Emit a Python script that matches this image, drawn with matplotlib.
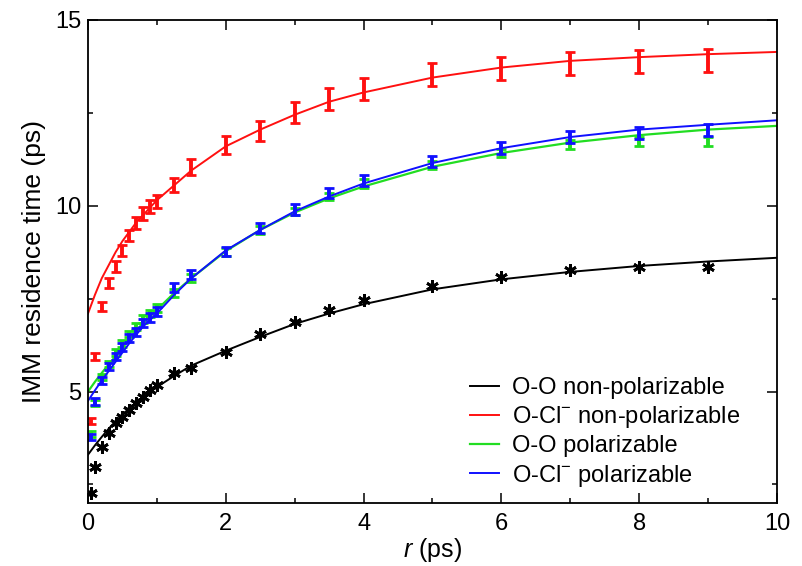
import matplotlib
matplotlib.use("Agg")
import matplotlib.pyplot as plt
from matplotlib.ticker import MultipleLocator

plt.rcParams['font.family'] = ['Liberation Sans', 'DejaVu Sans']
plt.rcParams['mathtext.fontset'] = 'custom'
plt.rcParams['mathtext.rm'] = 'Liberation Sans'
plt.rcParams['mathtext.it'] = 'Liberation Sans:italic'

# residence times at each r (ps)
r_pts = [0.05, 0.1, 0.2, 0.3, 0.4, 0.5, 0.6, 0.7, 0.8, 0.9, 1.0, 1.25, 1.5,
         2, 2.5, 3, 3.5, 4, 5, 6, 7, 8, 9]
oo_np = [2.26, 2.98, 3.52, 3.88, 4.15, 4.32, 4.5, 4.69, 4.86, 5.04, 5.18, 5.5, 5.63,
         6.06, 6.55, 6.87, 7.2, 7.46, 7.84, 8.08, 8.27, 8.35, 8.35]
ocl_np = [4.2, 5.95, 7.28, 7.92, 8.36, 8.8, 9.21, 9.54, 9.8, 9.98, 10.12, 10.56, 11.05,
          11.64, 12.0, 12.5, 12.87, 13.15, 13.52, 13.7, 13.82, 13.87, 13.92]
ocl_np_err = [0.08, 0.1, 0.12, 0.13, 0.14, 0.15, 0.15, 0.16, 0.17, 0.18, 0.18, 0.2, 0.22,
              0.25, 0.27, 0.28, 0.29, 0.3, 0.31, 0.31, 0.31, 0.31, 0.31]
oo_p = [3.85, 4.7, 5.4, 5.75, 6.05, 6.3, 6.55, 6.75, 6.95, 7.1, 7.25, 7.65, 8.05,
        8.75, 9.35, 9.85, 10.25, 10.6, 11.1, 11.42, 11.64, 11.72, 11.72]
oo_p_err = [0.08, 0.08, 0.08, 0.08, 0.09, 0.09, 0.09, 0.09, 0.1, 0.1, 0.1, 0.1, 0.1,
            0.1, 0.1, 0.1, 0.1, 0.11, 0.11, 0.11, 0.12, 0.12, 0.12]
ocl_p = [3.78, 4.73, 5.3, 5.67, 5.94, 6.2, 6.44, 6.61, 6.84, 7.0, 7.15, 7.8, 8.15,
         8.77, 9.4, 9.9, 10.34, 10.68, 11.2, 11.56, 11.85, 11.96, 12.04]
ocl_p_err = [0.08, 0.09, 0.1, 0.1, 0.1, 0.1, 0.11, 0.11, 0.11, 0.12, 0.12, 0.12, 0.13,
             0.13, 0.13, 0.14, 0.14, 0.15, 0.15, 0.16, 0.16, 0.16, 0.16]

# fitted curves
r_fit = [0, 0.1, 0.2, 0.3, 0.4, 0.5, 0.6, 0.7, 0.8, 1.0, 1.25, 1.5, 2, 2.5, 3, 3.5,
         4, 5, 6, 7, 8, 9, 10]
oo_np_fit = [3.3, 3.55, 3.78, 4.0, 4.2, 4.38, 4.55, 4.7, 4.85, 5.12, 5.42, 5.7,
             6.1, 6.47, 6.82, 7.1, 7.35, 7.75, 8.02, 8.22, 8.38, 8.5, 8.6]
ocl_np_fit = [7.1, 7.6, 8.05, 8.4, 8.75, 9.05, 9.3, 9.55, 9.75, 10.15, 10.55, 10.95,
              11.6, 12.05, 12.45, 12.8, 13.05, 13.45, 13.72, 13.9, 14.0, 14.08, 14.14]
oo_p_fit = [5.0, 5.26, 5.5, 5.73, 5.95, 6.18, 6.4, 6.63, 6.85, 7.2, 7.65, 8.05,
            8.78, 9.35, 9.82, 10.2, 10.52, 11.05, 11.42, 11.7, 11.9, 12.05, 12.15]
ocl_p_fit = [4.75, 5.03, 5.3, 5.55, 5.8, 6.05, 6.3, 6.53, 6.75, 7.1, 7.6, 8.05,
             8.8, 9.35, 9.85, 10.25, 10.6, 11.15, 11.55, 11.85, 12.05, 12.18, 12.3]

labels = ['O-O non-polarizable', r'O-Cl$^{-}$ non-polarizable',
          'O-O polarizable', r'O-Cl$^{-}$ polarizable']
RED, GREEN, BLUE = '#ff1010', '#22dd22', '#1010ff'

fig = plt.figure(figsize=(8.03, 5.66), dpi=100)
ax = fig.add_axes([0.1096, 0.1113, 0.858, 0.8534])

bar_kw = dict(fmt='none', capsize=3.8, elinewidth=2.8, capthick=2.0)

ax.plot(r_fit, oo_np_fit, color='black', lw=1.4, label=labels[0])
ax.plot(r_pts, oo_np, ls='none', marker=(6, 2, 0), ms=9, mew=2, color='black')

ax.plot(r_fit, ocl_np_fit, color=RED, lw=1.4, label=labels[1])
ax.errorbar(r_pts, ocl_np, yerr=ocl_np_err, ecolor=RED, **bar_kw)

ax.plot(r_fit, oo_p_fit, color=GREEN, lw=1.6, label=labels[2])
ax.errorbar(r_pts, oo_p, yerr=oo_p_err, ecolor=GREEN, **bar_kw)

ax.plot(r_fit, ocl_p_fit, color=BLUE, lw=1.4, label=labels[3])
ax.errorbar(r_pts, ocl_p, yerr=ocl_p_err, ecolor=BLUE, **bar_kw)

ax.set_xlim(0, 10)
ax.set_ylim(2, 15)
ax.xaxis.set_major_locator(MultipleLocator(2))
ax.xaxis.set_minor_locator(MultipleLocator(1))
ax.yaxis.set_major_locator(MultipleLocator(5))
ax.yaxis.set_minor_locator(MultipleLocator(2.5))
ax.tick_params(which='both', direction='in', top=True, right=True, width=1.1,
               labelsize=17)
ax.tick_params(axis='x', pad=7)
ax.tick_params(axis='y', pad=5)
ax.tick_params(which='major', length=7)
ax.tick_params(which='minor', length=3.5)
for s in ax.spines.values():
    s.set_linewidth(1.3)

ax.set_xlabel('$r$ (ps)', fontsize=18, labelpad=1)
ax.set_ylabel('IMM residence time (ps)', fontsize=19, labelpad=6)

ax.legend(loc='lower left', bbox_to_anchor=(0.555, 0.03), frameon=False,
          fontsize=17, handlelength=1.2, handletextpad=0.55, labelspacing=0.22,
          borderpad=0, borderaxespad=0)

fig.savefig('out.png', dpi=100)
